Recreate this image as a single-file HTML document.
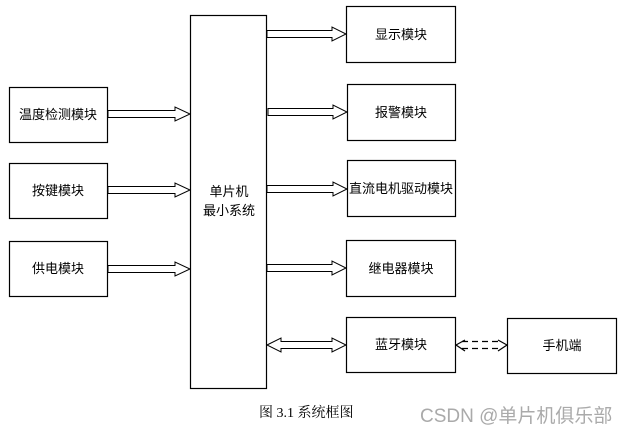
<!DOCTYPE html>
<html><head><meta charset="utf-8"><style>
body{margin:0;background:#fff;}
svg text{font-family:"Liberation Sans","Noto Sans CJK SC",sans-serif;font-size:13px;fill:#000;}
</style></head><body>
<svg width="627" height="436" viewBox="0 0 627 436" xmlns="http://www.w3.org/2000/svg">
<g fill="#fff" stroke="#000" stroke-width="1.2">
<rect x="9.5" y="87.5" width="98" height="55"/>
<rect x="9.5" y="163.5" width="98" height="55"/>
<rect x="9.5" y="241.5" width="98" height="55"/>
<rect x="190.5" y="15.5" width="76" height="373"/>
<rect x="346.5" y="6.5" width="109" height="56"/>
<rect x="347.5" y="84.5" width="108" height="56"/>
<rect x="347.5" y="160.5" width="108" height="56"/>
<rect x="346.5" y="240.5" width="109" height="56"/>
<rect x="346.5" y="317.5" width="109" height="55"/>
<rect x="507.5" y="318.5" width="109" height="55"/>
</g>
<g fill="#fff" stroke="#000" stroke-width="1">
<polygon points="108,110.5 175,110.5 175,107 190,114 175,121 175,117.5 108,117.5"/>
<polygon points="108,186.5 175,186.5 175,183 190,190 175,197 175,193.5 108,193.5"/>
<polygon points="108,265.5 175,265.5 175,262 190,269 175,276 175,272.5 108,272.5"/>
<polygon points="267,30.5 332,30.5 332,27 346,34 332,41 332,37.5 267,37.5"/>
<polygon points="268,108.5 333,108.5 333,105 347,112 333,119 333,115.5 268,115.5"/>
<polygon points="267,185.5 333,185.5 333,182 347,189 333,196 333,192.5 267,192.5"/>
<polygon points="267,264.5 332,264.5 332,261 346,268 332,275 332,271.5 267,271.5"/>
<polygon points="267,345 281,338 281,341.5 332,341.5 332,338 346,345 332,352 332,348.5 281,348.5 281,352"/>
</g>
<g fill="none" stroke="#000" stroke-width="1.2">
<polyline points="465,340 456,345 465,351"/>
<polyline points="498,340 507,345 498,351"/>
<line x1="462" y1="341.5" x2="500" y2="341.5" stroke-dasharray="6,4"/>
<line x1="462" y1="348.5" x2="500" y2="348.5" stroke-dasharray="6,4"/>
</g>
<g text-anchor="middle">
<text x="58" y="119">温度检测模块</text>
<text x="58" y="195">按键模块</text>
<text x="58" y="273">供电模块</text>
<text x="229" y="196">单片机</text>
<text x="229" y="215">最小系统</text>
<text x="401" y="39">显示模块</text>
<text x="401" y="117">报警模块</text>
<text x="401" y="193">直流电机驱动模块</text>
<text x="401" y="273">继电器模块</text>
<text x="401" y="349">蓝牙模块</text>
<text x="562" y="350">手机端</text>
</g>
<text x="259" y="417" style="font-family:'Liberation Serif','Noto Serif CJK SC',serif;font-size:14px;">图 3.1  系统框图</text>
<text x="420" y="422" style="font-size:19px;fill:#aaa;">CSDN @单片机俱乐部</text>
</svg>
</body></html>
